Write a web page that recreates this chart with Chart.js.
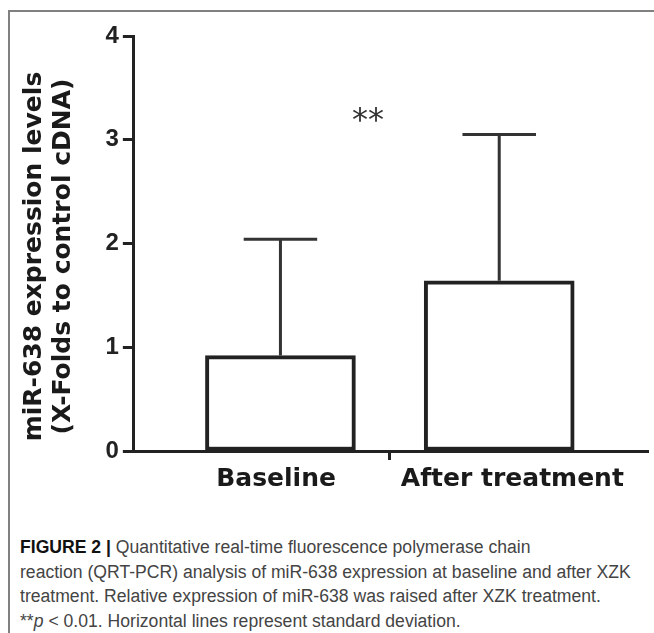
<!DOCTYPE html>
<html>
<head>
<meta charset="utf-8">
<script src="https://cdn.jsdelivr.net/npm/chart.js@4.4.0/dist/chart.umd.min.js"></script>
<style>
    html, body { margin: 0; padding: 0; background: #fff; }
    body { width: 654px; height: 633px; position: relative; overflow: hidden; }
    .frame {
        position: absolute; left: 8px; top: 10px; right: 0; bottom: 0;
        border-top: 2px solid #808080; border-left: 2px solid #808080;
    }
    #chartWrap { position: absolute; left: 0; top: 0; width: 654px; height: 510px; }
    .caption {
        position: absolute; left: 20px; top: 535px; width: 632px;
        font-family: "Liberation Sans", Arial, sans-serif;
        font-size: 17.6px; line-height: 24.5px; color: #444;
        white-space: nowrap;
    }
    .caption b { color: #111; }
</style>
</head>
<body>
<div class="frame"></div>
<div id="chartWrap"><canvas id="qpcrChart" width="654" height="510"></canvas></div>
<div class="caption">
    <b>FIGURE 2 |</b> Quantitative real-time fluorescence polymerase chain<br>
    reaction (QRT-PCR) analysis of miR-638 expression at baseline and after XZK<br>
    treatment. Relative expression of miR-638 was raised after XZK treatment.<br>
    **<i>p</i> &lt; 0.01. Horizontal lines represent standard deviation.
</div>
<script>
// Data
const categories = ['Baseline', 'After treatment'];
const means = [0.92, 1.64];
const sds = [1.12, 1.41];
const yTicks = [0, 1, 2, 3, 4];
const labelAt = [-0.02, 1.06]; // category labels sit slightly off the bar centres in the figure
const sigLabel = '**';
const sigAt = [0.4, 3.17]; // x (category index), y (value)

const ink = '#222';

// SD whiskers (upper only) and cap
const errorBars = {
    id: 'errorBars',
    afterDatasetsDraw(chart) {
        const meta = chart.getDatasetMeta(0);
        const yScale = chart.scales.y;
        const ctx = chart.ctx;
        ctx.save();
        ctx.strokeStyle = '#333';
        ctx.lineWidth = 3;
        meta.data.forEach((bar, i) => {
            const top = yScale.getPixelForValue(means[i] + sds[i]);
            const half = bar.width * 0.245;
            ctx.beginPath();
            ctx.moveTo(bar.x, bar.y);
            ctx.lineTo(bar.x, top);
            ctx.moveTo(bar.x - half, top);
            ctx.lineTo(bar.x + half, top);
            ctx.stroke();
        });
        ctx.restore();
    }
};

// significance marker
const sigMark = {
    id: 'sigMark',
    afterDatasetsDraw(chart) {
        const ctx = chart.ctx;
        ctx.save();
        ctx.font = '32px "DejaVu Sans"';
        ctx.fillStyle = '#333';
        ctx.textAlign = 'center';
        ctx.textBaseline = 'middle';
        ctx.fillText(sigLabel, chart.scales.x.getPixelForValue(sigAt[0]), chart.scales.y.getPixelForValue(sigAt[1]));
        ctx.restore();
    }
};

new Chart(document.getElementById('qpcrChart'), {
    type: 'bar',
    data: {
        datasets: [{
            data: means.map((m, i) => ({ x: i, y: m })),
            backgroundColor: '#fff',
            borderColor: ink,
            borderWidth: 4,
            borderSkipped: false,
            barThickness: 150
        }]
    },
    options: {
        responsive: false,
        animation: false,
        layout: { padding: { top: 36, right: 6, bottom: 12, left: 0 } },
        plugins: {
            legend: { display: false },
            tooltip: { enabled: false }
        },
        scales: {
            x: {
                type: 'linear',
                offset: false,
                min: -0.67,
                max: 1.68,
                afterBuildTicks: (scale) => {
                    scale.ticks = [{ value: labelAt[0] }, { value: 0.5 }, { value: labelAt[1] }];
                },
                border: { display: true, color: ink, width: 3 },
                grid: {
                    offset: false,
                    drawOnChartArea: false,
                    drawTicks: true,
                    tickLength: 9,
                    tickWidth: 3,
                    tickColor: (ctx) => (ctx.tick && ctx.tick.value === 0.5) ? ink : 'rgba(0,0,0,0)'
                },
                ticks: {
                    autoSkip: false,
                    maxRotation: 0,
                    padding: 4,
                    color: '#1a1a1a',
                    font: { family: 'DejaVu Sans', size: 25, weight: 'bold' },
                    callback: (v) => {
                        const i = labelAt.indexOf(v);
                        return i >= 0 ? categories[i] : '';
                    }
                }
            },
            y: {
                min: 0,
                max: 4,
                afterBuildTicks: (scale) => {
                    scale.ticks = yTicks.map(v => ({ value: v }));
                },
                border: { display: true, color: ink, width: 3 },
                grid: {
                    drawOnChartArea: false,
                    drawTicks: true,
                    tickLength: 11,
                    tickWidth: 3,
                    tickColor: ink
                },
                ticks: {
                    padding: 4,
                    color: ink,
                    font: { family: 'Liberation Sans', size: 24, weight: 'bold' }
                },
                title: {
                    display: true,
                    // trailing spaces push the rotated text a little lower, as in the figure
                    text: ['miR-638 expression levels   ', '(X-Folds to control cDNA)   '],
                    color: '#1a1a1a',
                    font: { family: 'DejaVu Sans', size: 25, weight: 'bold', lineHeight: 1.15 },
                    padding: { top: 20, bottom: 24 }
                }
            }
        }
    },
    plugins: [errorBars, sigMark]
});
</script>
</body>
</html>
